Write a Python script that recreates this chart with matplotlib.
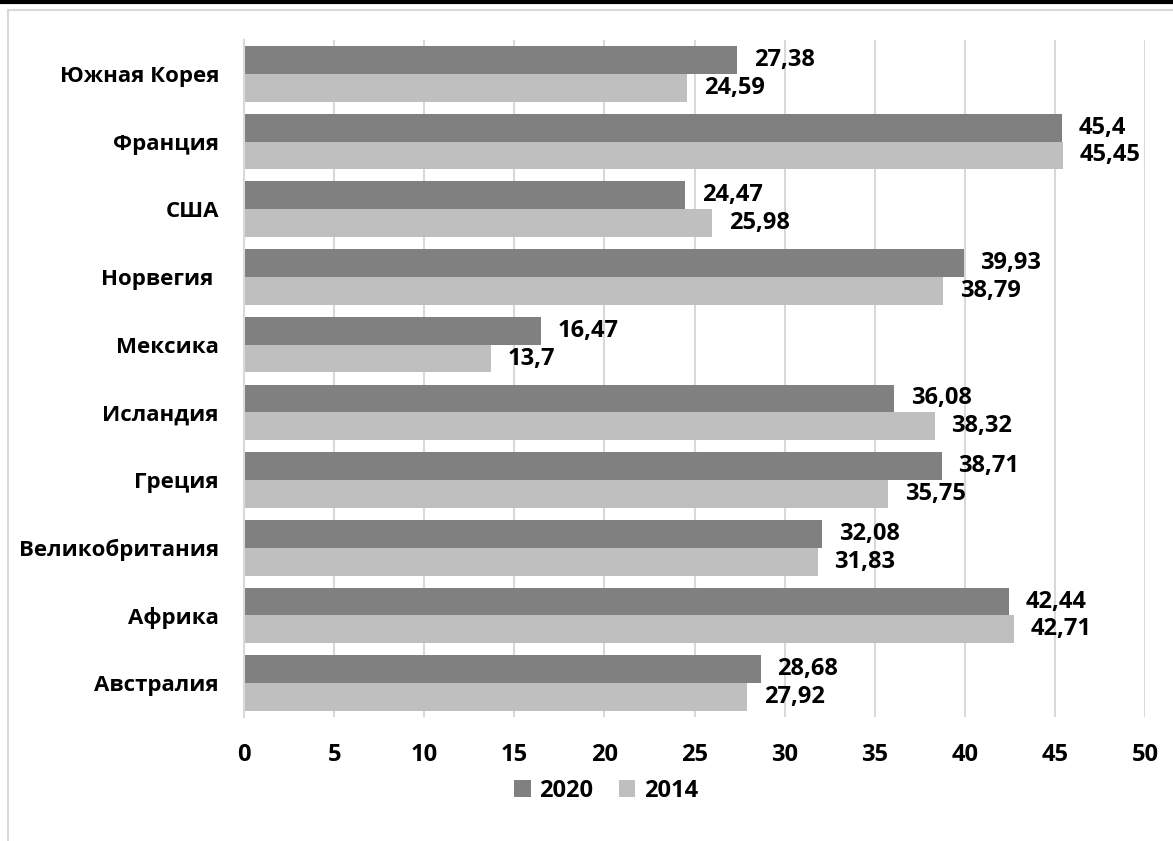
import matplotlib
matplotlib.use("Agg")
import matplotlib.pyplot as plt
import numpy as np
from matplotlib.lines import Line2D

# data (top to bottom as shown)
countries = ["Южная Корея", "Франция", "США", "Норвегия ", "Мексика",
             "Исландия", "Греция", "Великобритания", "Африка", "Австралия"]
values_2020 = [27.38, 45.4, 24.47, 39.93, 16.47, 36.08, 38.71, 32.08, 42.44, 28.68]
values_2014 = [24.59, 45.45, 25.98, 38.79, 13.7, 38.32, 35.75, 31.83, 42.71, 27.92]
x_ticks = [0, 5, 10, 15, 20, 25, 30, 35, 40, 45, 50]

DARK = "#808080"
LIGHT = "#bfbfbf"
GRID = "#d9d9d9"

plt.rcParams["font.family"] = ["Open Sans", "DejaVu Sans"]
plt.rcParams["font.weight"] = "bold"

W, H = 1173, 841
fig = plt.figure(figsize=(W / 100, H / 100), dpi=100)
ax = fig.add_axes([244 / W, 1 - 717 / H, (1145 - 244) / W, (717 - 40) / H])

n = len(countries)
pos = np.arange(n)[::-1]
bar_h = 0.41

ax.barh(pos + bar_h / 2, values_2020, height=bar_h, color=DARK, label="2020", zorder=2)
ax.barh(pos - bar_h / 2, values_2014, height=bar_h, color=LIGHT, label="2014", zorder=2)

def fmt(v):
    return f"{v:g}".replace(".", ",")

for p, v in zip(pos, values_2020):
    ax.annotate(fmt(v), (v, p + bar_h / 2), xytext=(12, 0), textcoords="offset points",
                va="center", ha="left", fontsize=17, fontweight="bold")
for p, v in zip(pos, values_2014):
    ax.annotate(fmt(v), (v, p - bar_h / 2), xytext=(12, 0), textcoords="offset points",
                va="center", ha="left", fontsize=17, fontweight="bold")

ax.set_xlim(0, 50)
ax.set_ylim(-0.5, n - 0.5)
ax.set_xticks(x_ticks)
ax.set_xticklabels([str(t) for t in x_ticks], fontsize=17, fontweight="bold")
ax.set_yticks(pos)
ax.set_yticklabels(countries, fontsize=16, fontweight="bold")
ax.tick_params(axis="x", length=0, pad=19)
ax.tick_params(axis="y", length=0, pad=18)

ax.grid(axis="x", color=GRID, linewidth=1.5, zorder=0)
ax.set_axisbelow(True)
for side in ["top", "right", "bottom"]:
    ax.spines[side].set_visible(False)
ax.spines["left"].set_color(GRID)
ax.spines["left"].set_linewidth(1.5)

fig.legend(loc="center", bbox_to_anchor=(606 / W, 1 - 791 / H), ncol=2, frameon=False,
           handlelength=0.7, handleheight=0.7, handletextpad=0.35,
           columnspacing=1.1, prop={"weight": "bold", "size": 17})

# frame lines
fig.add_artist(Line2D([0, 1], [1 - 1.5 / H] * 2, color="black", linewidth=3))
fig.add_artist(Line2D([8 / W, 1], [1 - 10 / H] * 2, color=GRID, linewidth=1.5))
fig.add_artist(Line2D([8 / W, 8 / W], [0, 1 - 10 / H], color=GRID, linewidth=1.5))

fig.savefig("out.png", dpi=100)
